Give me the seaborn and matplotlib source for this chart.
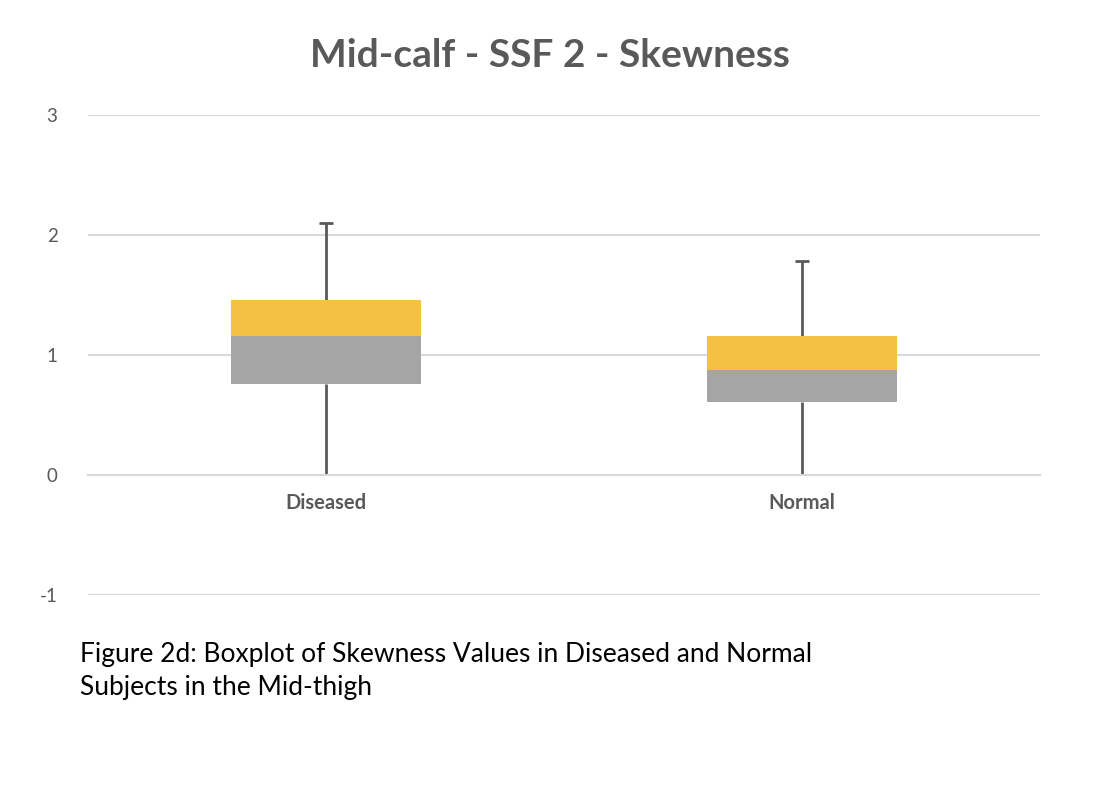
import pandas as pd
import seaborn as sns
import matplotlib.pyplot as plt
import numpy as np

# box statistics
groups = ['Diseased', 'Normal']
mins = [0.0, 0.0]
q1 = [0.758, 0.608]
medians = [1.158, 0.875]
q3 = [1.456, 1.156]
maxs = [2.10, 1.783]

df = pd.DataFrame({'group': groups, 'q1': q1, 'med': medians, 'q3': q3,
                   'lo': mins, 'hi': maxs})
df['lower_h'] = df['med'] - df['q1']
df['upper_h'] = df['q3'] - df['med']

sns.set_style('white')
plt.rcParams['font.family'] = ['Lato', 'DejaVu Sans']
plt.rcParams['axes.unicode_minus'] = False

fig = plt.figure(figsize=(11.16, 7.98), dpi=100)
ax = fig.add_axes([0.0789, 0.2548, 0.932 - 0.0789, 0.8563 - 0.2548])

# lower half of the box (Q1 -> median) and upper half (median -> Q3)
sns.barplot(data=df, x='group', y='lower_h', bottom=df['q1'], color='#A5A5A5',
            width=0.4, saturation=1, linewidth=0, ax=ax, zorder=3)
sns.barplot(data=df, x='group', y='upper_h', bottom=df['med'], color='#F5C142',
            width=0.4, saturation=1, linewidth=0, ax=ax, zorder=3)

# whiskers
pos = np.arange(len(groups))
ax.vlines(pos, df['lo'], df['q1'], color='#595959', lw=2, zorder=2)
ax.vlines(pos, df['q3'], df['hi'], color='#595959', lw=2, zorder=2)
ax.hlines(df['hi'], pos - 0.015, pos + 0.015, color='#595959', lw=2, zorder=2)

ax.set_ylim(-1, 3)
ax.set_xlim(-0.5, 1.5)
ax.set_yticks([-1, 0, 1, 2, 3])
ax.yaxis.grid(True, color='#D9D9D9', lw=1.5, zorder=0)
ax.set_axisbelow(True)
for s in ['top', 'right', 'left']:
    ax.spines[s].set_visible(False)
ax.spines['bottom'].set_position(('data', 0))
ax.spines['bottom'].set_color('#D9D9D9')
ax.spines['bottom'].set_linewidth(1.5)
ax.set_xlabel('')
ax.set_ylabel('')
ax.tick_params(axis='y', length=0, pad=22, labelsize=13.5, labelcolor='#595959')
ax.tick_params(axis='x', length=0, pad=13, labelsize=14.5, labelcolor='#595959')
for lab in ax.get_xticklabels():
    lab.set_fontweight('bold')

fig.text(0.493, 0.93, 'Mid-calf - SSF 2 - Skewness', ha='center', va='center',
         fontsize=28, fontweight='bold', color='#595959')
fig.text(0.072, 0.159, 'Figure 2d: Boxplot of Skewness Values in Diseased and Normal\nSubjects in the Mid-thigh',
         ha='left', va='center', fontsize=19, color='black', linespacing=1.4)

fig.savefig('out.png', dpi=100)
